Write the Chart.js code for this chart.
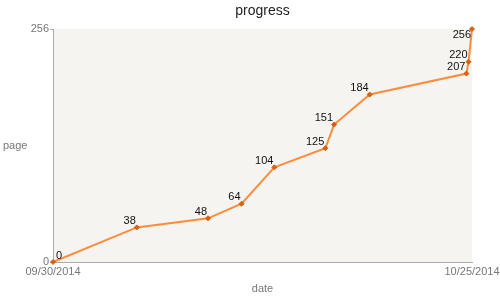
<!DOCTYPE html>
<html>
<head>
<meta charset="utf-8">
<script src="https://cdn.jsdelivr.net/npm/chart.js@4"></script>
<style>
  html, body { margin: 0; padding: 0; background: #fff; }
  #wrap { width: 500px; height: 300px; }
</style>
</head>
<body>
<div id="wrap"><canvas id="chart"></canvas></div>
<script>
const dates = [
  "2014-09-30T00:00Z", "2014-10-05T00:00Z", "2014-10-09T06:00Z",
  "2014-10-11T06:00Z", "2014-10-13T05:00Z", "2014-10-16T06:00Z",
  "2014-10-16T18:30Z", "2014-10-18T21:30Z", "2014-10-24T16:00Z",
  "2014-10-24T19:00Z", "2014-10-25T00:00Z"
];
const pages = [0, 38, 48, 64, 104, 125, 151, 184, 207, 220, 256];
const yTicks = [0, 256];
const xTicks = ["2014-09-30T00:00Z", "2014-10-25T00:00Z"];

const FONT = "'Liberation Sans', Arial, Helvetica, sans-serif";
const chartDiv = document.getElementById("chart");

const fmtDate = (ms) => {
  const d = new Date(ms);
  const pad = (n) => String(n).padStart(2, "0");
  return `${pad(d.getUTCMonth() + 1)}/${pad(d.getUTCDate())}/${d.getUTCFullYear()}`;
};

const points = dates.map((d, i) => ({ x: Date.parse(d), y: pages[i] }));
const xTickValues = xTicks.map((d) => Date.parse(d));

// plot background, title, horizontal y title, point labels
const extras = {
  id: "extras",
  beforeDraw: (chart) => {
    const { ctx, chartArea: a } = chart;
    ctx.save();
    ctx.fillStyle = "#f5f4f0";
    ctx.fillRect(a.left, a.top, a.right - a.left, a.bottom - a.top);
    ctx.restore();
  },
  afterDraw: (chart) => {
    const { ctx, chartArea: a } = chart;
    ctx.save();
    ctx.fillStyle = "#222";
    ctx.font = `14px ${FONT}`;
    ctx.textAlign = "center";
    ctx.textBaseline = "middle";
    ctx.fillText("progress", (a.left + a.right) / 2, 11);

    ctx.fillStyle = "#777";
    ctx.font = `11px ${FONT}`;
    ctx.textAlign = "left";
    ctx.fillText("page", 3, (a.top + a.bottom) / 2);

    ctx.fillStyle = "#111";
    ctx.textBaseline = "alphabetic";
    const meta = chart.getDatasetMeta(0);
    meta.data.forEach((pt, i) => {
      const txt = String(pages[i]);
      const w = ctx.measureText(txt).width;
      let left = pt.x - 1 - w;
      let base = pt.y - 3.5;
      if (left < a.left + 3) left = a.left + 3;
      if (base < a.top + 8.5) base = a.top + 8.5;
      ctx.fillText(txt, left, base);
    });
    ctx.restore();
  },
};

new Chart(chartDiv, {
  type: "line",
  data: {
    datasets: [
      {
        data: points,
        borderColor: "#fd8d3c",
        borderWidth: 2,
        pointStyle: "rectRot",
        pointRadius: 2.5,
        pointBackgroundColor: "#d9600e",
        pointBorderColor: "#d9600e",
        pointBorderWidth: 1,
        tension: 0,
        clip: false,
      },
    ],
  },
  options: {
    responsive: true,
    maintainAspectRatio: false,
    animation: false,
    layout: { padding: { top: 29, right: 28, left: 0, bottom: 0 } },
    scales: {
      x: {
        type: "linear",
        min: xTickValues[0],
        max: xTickValues[1],
        afterBuildTicks: (s) => {
          s.ticks = xTickValues.map((v) => ({ value: v }));
        },
        afterFit: (s) => {
          s.height = 38;
          s.paddingRight = 0;
          s.paddingLeft = 0;
        },
        grid: { display: false, drawTicks: false },
        border: { color: "#aaa", width: 1 },
        ticks: {
          color: "#777",
          font: { family: FONT, size: 11 },
          padding: 3,
          maxRotation: 0,
          autoSkip: false,
          callback: (v) => fmtDate(v),
        },
        title: {
          display: true,
          text: "date",
          color: "#777",
          font: { family: FONT, size: 11 },
          padding: { top: 0, bottom: 4 },
        },
      },
      y: {
        min: yTicks[0],
        max: yTicks[1],
        afterBuildTicks: (s) => {
          s.ticks = yTicks.map((v) => ({ value: v }));
        },
        afterFit: (s) => {
          s.width = 53;
          s.paddingTop = 0;
          s.paddingBottom = 0;
        },
        grid: { drawOnChartArea: false, drawTicks: true, tickLength: 3, color: "#aaa" },
        border: { color: "#aaa", width: 1 },
        ticks: {
          color: "#777",
          font: { family: FONT, size: 11 },
          padding: 1,
        },
      },
    },
    plugins: {
      legend: { display: false },
      title: { display: false },
      tooltip: { enabled: false },
    },
  },
  plugins: [extras],
});
</script>
</body>
</html>
